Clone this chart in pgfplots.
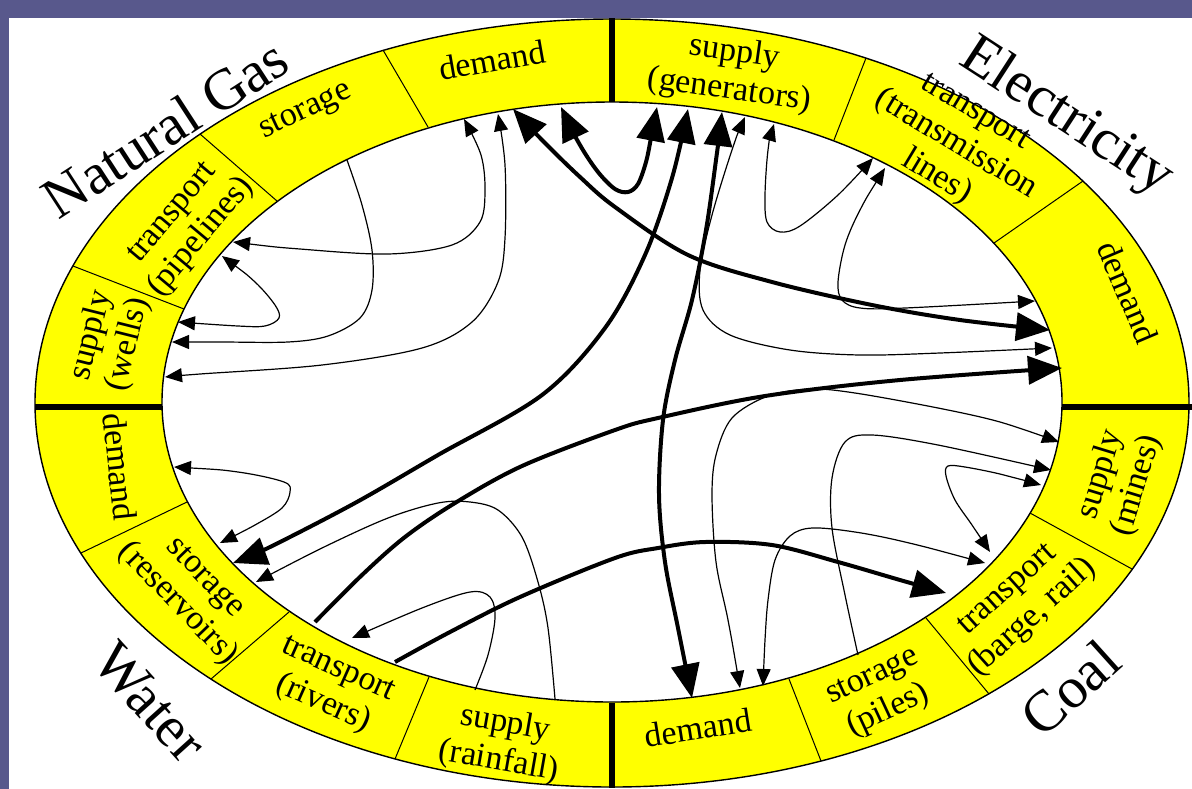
\documentclass[border=0pt]{standalone}
\usepackage{pgfplots}
\pgfplotsset{compat=1.18}
\usepackage{fontspec}
\setmainfont{Liberation Serif}
\usetikzlibrary{arrows.meta}
\definecolor{bgblue}{RGB}{88,88,140}
\definecolor{ringyellow}{RGB}{255,255,0}
\pgfplotsset{
  thn/.style={black, line width=0.6pt, smooth, tension=0.55, mark=none, >={Triangle[length=8.5pt,width=7pt]}},
  thk/.style={black, line width=2pt, smooth, tension=0.55, mark=none, >={Triangle[length=17pt,width=14pt]}},
}
\tikzset{
  seg/.style={font=\fontsize{17}{19}\selectfont, align=center, inner sep=0pt},
  big/.style={font=\fontsize{29}{32}\selectfont, inner sep=0pt},
}
\begin{document}
\begin{tikzpicture}
\begin{axis}[
  width=596pt, height=394pt, scale only axis,
  xmin=0, xmax=1192, ymin=0, ymax=788, y dir=reverse,
  hide axis,
]
% background
\fill[bgblue] (axis cs:-10,-10) rectangle (axis cs:1202,798);
\fill[white] (axis cs:8.5,18) rectangle (axis cs:1202,798);
% ring
\fill[ringyellow, draw=black, line width=0.7pt] (axis cs:612,403) ellipse [x radius=577, y radius=384];
\fill[white, draw=black, line width=0.7pt] (axis cs:612,402) ellipse [x radius=450, y radius=300];
% thin dividers
\draw[line width=0.5pt] (axis cs:383,50) -- (axis cs:428,127);
\draw[line width=0.5pt] (axis cs:200,134) -- (axis cs:277,201);
\draw[line width=0.5pt] (axis cs:73,266) -- (axis cs:184,309);
\draw[line width=0.5pt] (axis cs:866,58) -- (axis cs:834,140);
\draw[line width=0.5pt] (axis cs:1083,181) -- (axis cs:994,243);
\draw[line width=0.5pt] (axis cs:81,553) -- (axis cs:187,502);
\draw[line width=0.5pt] (axis cs:211,679) -- (axis cs:289,612);
\draw[line width=0.5pt] (axis cs:395,759) -- (axis cs:429,677);
\draw[line width=0.5pt] (axis cs:821,761) -- (axis cs:789,679);
\draw[line width=0.5pt] (axis cs:989,694) -- (axis cs:926,618);
\draw[line width=0.5pt] (axis cs:1132,569) -- (axis cs:1030,513);
% thick dividers
\draw[line width=2.8pt] (axis cs:612,18) -- (axis cs:612,102);
\draw[line width=2.8pt] (axis cs:612,703) -- (axis cs:612,788);
\draw[line width=2.8pt] (axis cs:35,407) -- (axis cs:162,407);
\draw[line width=2.8pt] (axis cs:1062,407) -- (axis cs:1192,407);
% segment labels
\node[seg, rotate=10] at (axis cs:492,60) {demand};
\node[seg, rotate=25] at (axis cs:306,112) {storage};
\node[seg, rotate=50] at (axis cs:188,226) {transport\\(pipelines)};
\node[seg, rotate=76] at (axis cs:110,340) {supply\\(wells)};
\node[seg, rotate=-8] at (axis cs:732,72) {supply\\(generators)};
\node[seg, rotate=-31] at (axis cs:955,146) {transport\\(transmission\\lines)};
\node[seg, rotate=-67] at (axis cs:1128,292) {demand};
\node[seg, rotate=-84] at (axis cs:120,467) {demand};
\node[seg, rotate=-46] at (axis cs:190,592) {storage\\(reservoirs)};
\node[seg, rotate=-24] at (axis cs:330,688) {transport\\(rivers)};
\node[seg, rotate=-10] at (axis cs:502,743) {supply\\(rainfall)};
\node[seg, rotate=9] at (axis cs:698,728) {demand};
\node[seg, rotate=25] at (axis cs:881,695) {storage\\(piles)};
\node[seg, rotate=42] at (axis cs:1021,605) {transport\\(barge, rail)};
\node[seg, rotate=73] at (axis cs:1119,480) {supply\\(mines)};
% big labels
\node[big, rotate=33] at (axis cs:165,128) {Natural Gas};
\node[big, rotate=-33] at (axis cs:1066,118) {Electricity};
\node[big, rotate=-48] at (axis cs:150,702) {Water};
\node[big, rotate=42] at (axis cs:1070,688) {Coal};
% thick arrows
\addplot[thk,<->] coordinates {(513,109) (545,143) (580,177) (615,207) (688,255) (772,282) (872,305) (960,320) (1050,330)};
\addplot[thk,<->] coordinates {(561,107) (580,145) (598,172) (615,189) (628,192) (638,184) (646,162) (651,138) (657,107)};
\addplot[thk,<->] coordinates {(233,563) (270,547) (355,503) (438,455) (542,395) (605,328) (645,255) (672,178) (688,109)};
\addplot[thk,->] coordinates {(315,622) (362,575) (405,537) (455,503) (522,466) (615,430) (658,418) (765,396) (900,380) (1062,368)};
\addplot[thk,->] coordinates {(395,662) (450,632) (520,597) (615,558) (658,548) (705,542) (772,545) (838,562) (900,580) (946,593)};
\addplot[thk,<->] coordinates {(722,112) (716,160) (706,230) (692,300) (675,360) (663,420) (659,495) (665,562) (678,628) (692,698)};
% thin arrows
\addplot[thn,<->] coordinates {(233,242) (300,249) (388,254) (452,245) (480,222) (485,190) (481,155) (464,119)};
\addplot[thn,<->] coordinates {(165,377) (200,374) (322,365) (422,348) (472,322) (498,282) (505,238) (505,165) (498,114)};
\addplot[thn,->] coordinates {(347,160) (362,205) (372,250) (372,290) (360,318) (328,336) (288,342) (222,342) (172,342)};
\addplot[thn,<->] coordinates {(222,256) (255,282) (275,305) (279,318) (265,326) (238,326) (178,322)};
\addplot[thn,<->] coordinates {(745,117) (732,150) (712,215) (700,270) (703,310) (730,335) (790,350) (860,355) (940,353) (1052,348)};
\addplot[thn,<->] coordinates {(885,168) (860,210) (845,245) (838,282) (842,300) (860,308) (905,308) (1035,301)};
\addplot[thn,<->] coordinates {(774,124) (768,150) (765,195) (767,222) (780,232) (800,226) (838,195) (873,158)};
\addplot[thn,<->] coordinates {(740,688) (728,620) (716,562) (712,495) (716,455) (732,418) (768,396) (810,389) (855,393) (938,408) (1000,422) (1059,442)};
\addplot[thn,->] coordinates {(858,655) (845,595) (832,528) (832,478) (845,442) (872,435) (938,445) (1051,470)};
\addplot[thn,<->] coordinates {(1041,485) (1000,474) (965,467) (948,466) (946,476) (955,500) (972,525) (990,552)};
\addplot[thn,<->] coordinates {(985,563) (905,542) (855,532) (812,528) (790,536) (775,560) (768,600) (765,640) (763,686)};
\addplot[thn,<->] coordinates {(174,467) (238,472) (284,482) (290,492) (282,508) (255,525) (220,543)};
\addplot[thn,->] coordinates {(555,699) (548,628) (538,582) (522,537) (498,510) (470,502) (438,503) (388,518) (322,548) (256,582)};
\addplot[thn,->] coordinates {(475,690) (488,655) (495,618) (490,597) (470,592) (422,608) (352,638)};
\end{axis}
\end{tikzpicture}
\end{document}
